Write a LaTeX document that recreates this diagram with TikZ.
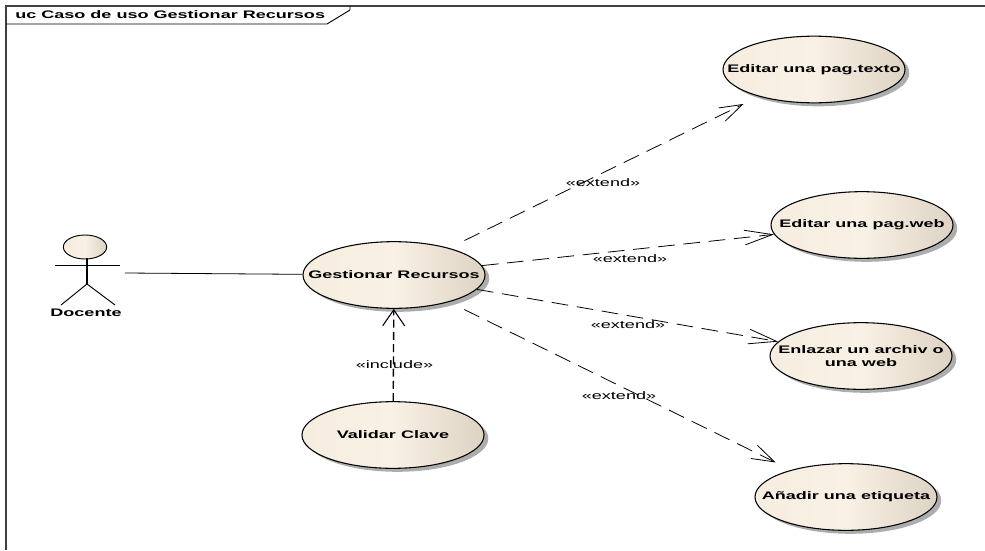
\documentclass[tikz,border=0pt]{standalone}
\usepackage{fontspec}
\setmainfont[FakeStretch=1.65]{Liberation Sans}
\usetikzlibrary{shapes.geometric,arrows.meta,shadows}

\definecolor{caseleft}{HTML}{F6EDE0}
\definecolor{casemid}{HTML}{F9F1E5}
\definecolor{caseright}{HTML}{DDD3C3}

\begin{document}
\begin{tikzpicture}[
			x=0.75pt, y=-0.75pt,
			every node/.style={font=\fontsize{8.2pt}{9.6pt}\selectfont},
			usecase/.style={shape=ellipse, draw, line width=0.8pt, inner sep=0pt,
				minimum width=136.5pt, minimum height=50pt,
				left color=caseleft, right color=caseright, middle color=casemid,
				general shadow={fill=black!32, shadow xshift=3.2pt, shadow yshift=-2.6pt}},
			casename/.style={font=\fontsize{8.2pt}{9.6pt}\selectfont\bfseries, align=center},
			stereo/.style={inner sep=0pt},
			extline/.style={line width=0.6pt, dash pattern=on 12.5pt off 6.5pt,
				-{Straight Barb[length=#1, width=11pt, line width=0.6pt]}},
			incline/.style={line width=1pt, dash pattern=on 6pt off 3.2pt,
				-{Straight Barb[length=12pt, width=16.5pt, line width=0.8pt]}}
			]
			\useasboundingbox (0,0) rectangle (985,550);
			
			% Frame and its title tab
			\draw[black!75, line width=1.1pt] (985,6) -- (6,6) -- (6,550);
			\coordinate (tabbottom) at (6,24);
			\coordinate (tabcut) at (327,24);
			\coordinate (tabside) at (350,10);
			\coordinate (tabtop) at (350,6);
			\draw[line width=0.7pt] (tabbottom) -- (tabcut) -- (tabside) -- (tabtop);
			\node[casename, anchor=west, inner sep=0pt] (title) at (15,14.5) {uc Caso de uso Gestionar Recursos};
			
			% Actor
			\node[shape=ellipse, draw, line width=0.7pt, inner sep=0pt, minimum width=32.5pt, minimum height=18pt,
				left color=caseleft, right color=caseright, middle color=casemid] (head) at (85,247) {};
			\coordinate (neck) at (87,258);
			\coordinate (hip) at (87,284);
			\coordinate (armleft) at (55,265);
			\coordinate (armright) at (120,265);
			\coordinate (legleft) at (61,305);
			\coordinate (legright) at (115,305);
			\coordinate (docente) at (125,273);
			\draw[line width=0.8pt] (neck) -- (hip);
			\draw[line width=0.6pt] (armleft) -- (armright);
			\draw[line width=0.7pt] (legleft) -- (hip) -- (legright);
			\node[casename, inner sep=0pt] (actor) at (86,312.5) {Docente};
			
			% Use cases
			\node[usecase, label={[casename]center:Gestionar Recursos}] (gestionar) at (394,275) {};
			\node[usecase, label={[casename]center:Validar Clave}] (validar) at (393,435) {};
			\node[usecase, label={[casename]center:Editar una pag.texto}] (texto) at (814,69.5) {};
			\node[usecase, label={[casename]center:Editar una pag.web}] (web) at (862,225) {};
			\node[usecase, label={[casename]center:Enlazar un archiv o\\una web}] (enlazar) at (861,356) {};
			\node[usecase, label={[casename]center:Añadir una etiqueta}] (etiqueta) at (846,497) {};
			
			% Connectors
			\draw[line width=0.6pt] (docente) -- (gestionar);
			\draw[incline] (validar) -- (gestionar);
			\draw[extline=17pt, shorten <=12.75pt, shorten >=12.75pt] (gestionar) -- (texto);
			\draw[extline=21pt] (gestionar) -- (web);
			\draw[extline=21pt] (gestionar) -- (enlazar);
			\draw[extline=17pt, shorten <=12.75pt, shorten >=12.75pt] (gestionar) -- (etiqueta);
			
			% Stereotypes
			\node[stereo] (inc) at (394.5,365) {«include»};
			\node[stereo] (ext1) at (603,183) {«extend»};
			\node[stereo] (ext2) at (630,259) {«extend»};
			\node[stereo] (ext3) at (628,325) {«extend»};
			\node[stereo] (ext4) at (619,396) {«extend»};
			
		\end{tikzpicture}
\end{document}
